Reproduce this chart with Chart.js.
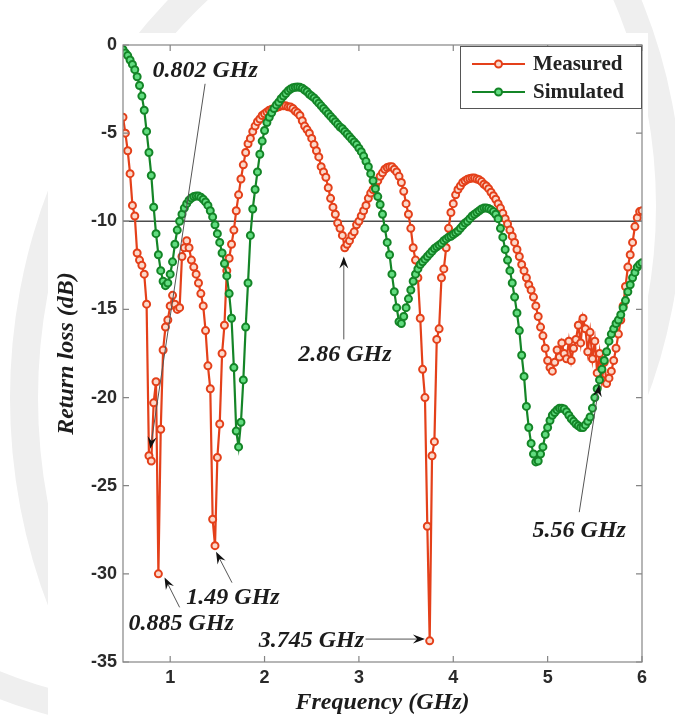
<!DOCTYPE html>
<html lang="en">
  <head>
    <meta charset="UTF-8" />
    <title>Return loss vs frequency</title>
    <script src="https://cdn.jsdelivr.net/npm/chart.js"></script>
    <style>
      html, body { margin: 0; padding: 0; background: #fff; }
      .page { position: relative; width: 675px; height: 717px; overflow: hidden; background: #fff; }
      .mark { position: absolute; border-radius: 50%; }
      .mark-left { left: 10px; top: -160px; width: 1000px; height: 1060px; border: 28px solid #efefef; }
      .mark-right { left: -330px; top: -320px; width: 960px; height: 1000px; border: 26px solid #efefef; }
      .panel { position: absolute; left: 48px; top: 33px; width: 600px; height: 684px; background: #fff; }
      canvas { position: absolute; left: 0; top: 0; }
    </style>
  </head>
  <body>
    <div class="page">
      <div class="mark mark-left"></div>
      <div class="mark mark-right"></div>
      <div class="panel"></div>
      <canvas id="chart" width="675" height="717"></canvas>
    </div>

    <script>
      // frequency grid (GHz), one sample every 0.025 GHz
      const freqGHz = [
        0.5, 0.525, 0.55, 0.575, 0.6, 0.625, 0.65, 0.675, 0.7, 0.725,
        0.75, 0.775, 0.8, 0.825, 0.85, 0.875, 0.9, 0.925, 0.95, 0.975,
        1, 1.025, 1.05, 1.075, 1.1, 1.125, 1.15, 1.175, 1.2, 1.225,
        1.25, 1.275, 1.3, 1.325, 1.35, 1.375, 1.4, 1.425, 1.45, 1.475,
        1.5, 1.525, 1.55, 1.575, 1.6, 1.625, 1.65, 1.675, 1.7, 1.725,
        1.75, 1.775, 1.8, 1.825, 1.85, 1.875, 1.9, 1.925, 1.95, 1.975,
        2, 2.025, 2.05, 2.075, 2.1, 2.125, 2.15, 2.175, 2.2, 2.225,
        2.25, 2.275, 2.3, 2.325, 2.35, 2.375, 2.4, 2.425, 2.45, 2.475,
        2.5, 2.525, 2.55, 2.575, 2.6, 2.625, 2.65, 2.675, 2.7, 2.725,
        2.75, 2.775, 2.8, 2.825, 2.85, 2.875, 2.9, 2.925, 2.95, 2.975,
        3, 3.025, 3.05, 3.075, 3.1, 3.125, 3.15, 3.175, 3.2, 3.225,
        3.25, 3.275, 3.3, 3.325, 3.35, 3.375, 3.4, 3.425, 3.45, 3.475,
        3.5, 3.525, 3.55, 3.575, 3.6, 3.625, 3.65, 3.675, 3.7, 3.725,
        3.75, 3.775, 3.8, 3.825, 3.85, 3.875, 3.9, 3.925, 3.95, 3.975,
        4, 4.025, 4.05, 4.075, 4.1, 4.125, 4.15, 4.175, 4.2, 4.225,
        4.25, 4.275, 4.3, 4.325, 4.35, 4.375, 4.4, 4.425, 4.45, 4.475,
        4.5, 4.525, 4.55, 4.575, 4.6, 4.625, 4.65, 4.675, 4.7, 4.725,
        4.75, 4.775, 4.8, 4.825, 4.85, 4.875, 4.9, 4.925, 4.95, 4.975,
        5, 5.025, 5.05, 5.075, 5.1, 5.125, 5.15, 5.175, 5.2, 5.225,
        5.25, 5.275, 5.3, 5.325, 5.35, 5.375, 5.4, 5.425, 5.45, 5.475,
        5.5, 5.525, 5.55, 5.575, 5.6, 5.625, 5.65, 5.675, 5.7, 5.725,
        5.75, 5.775, 5.8, 5.825, 5.85, 5.875, 5.9, 5.925, 5.95, 5.975,
        6
      ];

      const measuredDb = [
        -4.1, -5.0, -6.0, -7.3, -9.1, -9.7, -11.8, -12.2, -12.5, -13.0,
        -14.7, -23.3, -23.6, -20.3, -19.1, -30.0, -21.8, -17.3, -16.0, -15.6,
        -14.8, -14.2, -14.7, -15.0, -14.9, -12.0, -11.5, -11.1, -11.5, -12.2,
        -12.6, -13.0, -13.5, -14.1, -14.8, -16.2, -18.2, -19.5, -26.9, -28.4,
        -23.4, -21.5, -17.5, -15.9, -12.8, -12.1, -11.3, -10.5, -9.4, -8.5,
        -7.6, -6.8, -6.1, -5.6, -5.3, -4.9, -4.6, -4.35, -4.2, -4.0,
        -3.9, -3.8, -3.7, -3.65, -3.6, -3.55, -3.5, -3.45, -3.45, -3.45,
        -3.5, -3.52, -3.6, -3.75, -3.85, -4.0, -4.3, -4.6, -4.8, -5.0,
        -5.3, -5.65, -6.0, -6.35, -6.9, -7.2, -7.5, -8.1, -8.7, -9.2,
        -9.6, -10.1, -10.4, -10.8, -11.5, -11.3, -11.1, -10.8, -10.6, -10.2,
        -10.0, -9.7, -9.4, -9.1, -8.7, -8.4, -8.2, -7.95, -7.7, -7.45,
        -7.25, -7.05, -6.95, -6.9, -6.9, -7.05, -7.2, -7.45, -7.8, -8.3,
        -9.0, -9.6, -10.4, -11.5, -12.2, -13.2, -15.5, -18.4, -20.0, -27.3,
        -33.8, -23.3, -22.5, -16.7, -16.1, -13.2, -12.7, -11.5, -10.4, -9.5,
        -9.0, -8.5, -8.2, -8.0, -7.8, -7.7, -7.62, -7.58, -7.55, -7.55,
        -7.6, -7.65, -7.75, -7.9, -8.0, -8.15, -8.35, -8.55, -8.75, -9.0,
        -9.25, -9.55, -9.85, -10.15, -10.5, -10.85, -11.2, -11.6, -12.0, -12.45,
        -12.8, -13.2, -13.6, -13.9, -14.3, -14.8, -15.4, -16.0, -16.5, -17.2,
        -17.9, -18.3, -18.5, -18.0, -17.3, -17.7, -16.9, -17.5, -17.8, -16.8,
        -17.9, -17.2, -16.7, -15.9, -16.9, -15.5, -16.1, -17.4, -16.3, -17.8,
        -16.8, -18.6, -17.5, -19.0, -18.0, -19.2, -18.9, -18.5, -17.9, -17.2,
        -16.4, -15.6, -14.8, -13.7, -12.6, -11.9, -11.2, -10.3, -9.8, -9.45,
        -9.4
      ];

      const simulatedDb = [
        -0.25, -0.45, -0.6, -0.85, -1.1, -1.4, -1.8, -2.3, -2.9, -3.7,
        -4.9, -6.1, -7.4, -9.2, -10.7, -11.9, -12.8, -13.4, -13.65, -13.5,
        -13.0, -12.3, -11.3, -10.5, -10.0, -9.6, -9.25, -9.0, -8.8, -8.68,
        -8.6, -8.57, -8.57, -8.63, -8.75, -8.9, -9.1, -9.4, -9.75, -10.2,
        -10.7, -11.2, -11.8, -12.4, -13.1, -14.1, -15.5, -18.3, -21.9, -22.8,
        -21.4, -19.0, -16.0, -13.5, -10.8, -9.3, -8.2, -7.2, -6.2, -5.45,
        -4.85, -4.4, -4.1, -3.85, -3.6, -3.4, -3.25, -3.05, -2.9, -2.75,
        -2.6, -2.5, -2.43, -2.4, -2.38, -2.4, -2.45, -2.55, -2.65, -2.8,
        -2.9, -3.0, -3.15, -3.3, -3.45, -3.6, -3.75, -3.9, -4.05, -4.2,
        -4.35, -4.5, -4.65, -4.75, -4.9, -5.05, -5.2, -5.35, -5.5, -5.65,
        -5.85, -6.05, -6.3, -6.6, -6.9, -7.3, -7.7, -8.15, -8.6, -9.05,
        -9.6, -10.4, -11.2, -11.9, -13.0, -14.0, -14.9, -15.7, -15.8, -15.4,
        -14.9, -14.4, -13.9, -13.4, -13.0, -12.7, -12.45, -12.3, -12.15, -12.0,
        -11.85, -11.7, -11.55, -11.45, -11.35, -11.25, -11.1, -11.0, -10.9, -10.85,
        -10.75, -10.65, -10.55, -10.4, -10.25, -10.1, -10.0, -9.85, -9.7, -9.6,
        -9.5, -9.4, -9.3, -9.25, -9.25, -9.28, -9.35, -9.45, -9.6, -9.85,
        -10.4, -10.9, -11.6, -12.2, -12.8, -13.5, -14.3, -15.2, -16.2, -17.6,
        -18.8, -20.5, -21.7, -22.6, -23.2, -23.65, -23.6, -23.2, -22.8, -22.1,
        -21.7, -21.3, -21.0, -20.85, -20.7, -20.6, -20.6, -20.65, -20.8, -21.0,
        -21.2, -21.35, -21.5, -21.6, -21.7, -21.7, -21.55, -21.35, -21.1, -20.6,
        -20.0, -19.5, -19.0, -18.4, -17.9, -17.4, -16.8, -16.4, -16.1, -15.8,
        -15.6, -15.3, -14.9, -14.5, -14.0, -13.6, -13.2, -12.9, -12.6, -12.45,
        -12.35
      ];

      const seriesNames = ["Measured", "Simulated"];
      const xTickValues = [1, 2, 3, 4, 5, 6];
      const yTickValues = [0, -5, -10, -15, -20, -25, -30, -35];
      const refLevelDb = -10;

      // callouts: label anchor, arrow tail and arrow tip, all in data units
      const callouts = [
        { text: "0.802 GHz", at: [1.37, -1.45], from: [1.37, -2.2], to: [0.79, -22.9] },
        { text: "0.885 GHz", at: [1.117, -32.83], from: [1.1, -31.9], to: [0.94, -30.2] },
        { text: "1.49 GHz", at: [1.666, -31.36], from: [1.655, -30.5], to: [1.486, -28.75] },
        { text: "2.86 GHz", at: [2.852, -17.56], from: [2.84, -16.7], to: [2.84, -12.0] },
        { text: "3.745 GHz", at: [2.496, -33.8], from: [3.07, -33.7], to: [3.7, -33.7] },
        { text: "5.56 GHz", at: [5.335, -27.56], from: [5.335, -26.5], to: [5.546, -19.27] }
      ];

      const red = "#e4401a";
      const redFill = "#fbd9cb";
      const green = "#148527";
      const greenFill = "#62dc80";
      const serif = '"Liberation Serif", "Times New Roman", serif';
      const sans = '"Liberation Sans", Arial, sans-serif';

      function drawArrow(ctx, x0, y0, x1, y1) {
        const ang = Math.atan2(y1 - y0, x1 - x0);
        const len = 12;
        const half = 4.5;
        ctx.save();
        ctx.strokeStyle = "#555";
        ctx.lineWidth = 1;
        ctx.beginPath();
        ctx.moveTo(x0, y0);
        ctx.lineTo(x1 - Math.cos(ang) * len * 0.6, y1 - Math.sin(ang) * len * 0.6);
        ctx.stroke();
        ctx.translate(x1, y1);
        ctx.rotate(ang);
        ctx.fillStyle = "#111";
        ctx.beginPath();
        ctx.moveTo(0, 0);
        ctx.lineTo(-len, -half);
        ctx.lineTo(-len * 0.65, 0);
        ctx.lineTo(-len, half);
        ctx.closePath();
        ctx.fill();
        ctx.restore();
      }

      function drawMarker(ctx, x, y, stroke, fill) {
        ctx.beginPath();
        ctx.arc(x, y, 3.5, 0, Math.PI * 2);
        ctx.fillStyle = fill;
        ctx.fill();
        ctx.lineWidth = 2;
        ctx.strokeStyle = stroke;
        ctx.stroke();
      }

      const overlay = {
        id: "overlay",
        beforeDatasetsDraw(chart) {
          const { ctx, chartArea: a, scales } = chart;
          const y = scales.y.getPixelForValue(refLevelDb);
          ctx.save();
          ctx.strokeStyle = "#4d4d4d";
          ctx.lineWidth = 1.5;
          ctx.beginPath();
          ctx.moveTo(a.left, y);
          ctx.lineTo(a.right, y);
          ctx.stroke();
          ctx.restore();
        },
        afterDatasetsDraw(chart) {
          const { ctx, chartArea: a, scales } = chart;
          ctx.save();

          // box and inward ticks
          ctx.strokeStyle = "#858585";
          ctx.lineWidth = 1.2;
          ctx.strokeRect(a.left, a.top, a.right - a.left, a.bottom - a.top);
          ctx.beginPath();
          xTickValues.forEach((v) => {
            const x = scales.x.getPixelForValue(v);
            ctx.moveTo(x, a.bottom);
            ctx.lineTo(x, a.bottom - 6);
            ctx.moveTo(x, a.top);
            ctx.lineTo(x, a.top + 6);
          });
          yTickValues.forEach((v) => {
            const y = scales.y.getPixelForValue(v);
            ctx.moveTo(a.left, y);
            ctx.lineTo(a.left + 6, y);
            ctx.moveTo(a.right, y);
            ctx.lineTo(a.right - 6, y);
          });
          ctx.stroke();

          // callouts
          ctx.font = "italic bold 24px " + serif;
          ctx.fillStyle = "#1c1c1c";
          ctx.textAlign = "center";
          ctx.textBaseline = "middle";
          callouts.forEach((c) => {
            const tx = scales.x.getPixelForValue(c.at[0]);
            const ty = scales.y.getPixelForValue(c.at[1]);
            ctx.fillText(c.text, tx, ty);
            drawArrow(
              ctx,
              scales.x.getPixelForValue(c.from[0]),
              scales.y.getPixelForValue(c.from[1]),
              scales.x.getPixelForValue(c.to[0]),
              scales.y.getPixelForValue(c.to[1])
            );
          });

          // legend box, top right inside the axes
          const bw = 182;
          const bh = 63;
          const bx = a.right - bw;
          const by = a.top + 1;
          ctx.fillStyle = "#fff";
          ctx.fillRect(bx, by, bw, bh);
          ctx.strokeStyle = "#555";
          ctx.lineWidth = 1;
          ctx.strokeRect(bx + 0.5, by + 0.5, bw - 1, bh - 1);
          const entries = [
            { name: seriesNames[0], stroke: red, fill: redFill },
            { name: seriesNames[1], stroke: green, fill: greenFill }
          ];
          entries.forEach((e, i) => {
            const ly = by + 18 + i * 28;
            ctx.strokeStyle = e.stroke;
            ctx.lineWidth = 2;
            ctx.beginPath();
            ctx.moveTo(bx + 12, ly);
            ctx.lineTo(bx + 65, ly);
            ctx.stroke();
            drawMarker(ctx, bx + 38.5, ly, e.stroke, e.fill);
            ctx.fillStyle = "#222";
            ctx.font = "bold 21px " + serif;
            ctx.textAlign = "left";
            ctx.textBaseline = "middle";
            ctx.fillText(e.name, bx + 73, ly + 1);
          });

          ctx.restore();
        }
      };

      function createChart() {
        const measured = freqGHz.map((f, i) => ({ x: f, y: measuredDb[i] }));
        const simulated = freqGHz.map((f, i) => ({ x: f, y: simulatedDb[i] }));

        const tickFont = { family: sans, size: 18, weight: "bold" };
        const titleFont = { family: serif, size: 24, weight: "bold", style: "italic" };

        new Chart(document.getElementById("chart"), {
          type: "line",
          data: {
            datasets: [
              {
                label: seriesNames[0],
                data: measured,
                borderColor: red,
                borderWidth: 2.2,
                pointRadius: 3.5,
                pointBorderWidth: 2,
                pointBorderColor: red,
                pointBackgroundColor: redFill,
                tension: 0,
                order: 2
              },
              {
                label: seriesNames[1],
                data: simulated,
                borderColor: green,
                borderWidth: 2.2,
                pointRadius: 3.5,
                pointBorderWidth: 2,
                pointBorderColor: green,
                pointBackgroundColor: greenFill,
                tension: 0,
                order: 1
              }
            ]
          },
          options: {
            responsive: false,
            animation: false,
            layout: { padding: { left: 48, top: 45, right: 33, bottom: 0 } },
            plugins: {
              legend: { display: false },
              tooltip: { enabled: false },
              title: { display: false }
            },
            scales: {
              x: {
                type: "linear",
                min: 0.5,
                max: 6,
                grid: { display: false, drawTicks: false },
                border: { display: false },
                afterBuildTicks: (s) => {
                  s.ticks = xTickValues.map((v) => ({ value: v }));
                },
                afterFit: (s) => {
                  s.height = 55;
                },
                ticks: {
                  padding: 5,
                  color: "#2a2a2a",
                  font: tickFont,
                  maxRotation: 0,
                  callback: (v) => String(v)
                },
                title: {
                  display: true,
                  text: "Frequency (GHz)",
                  color: "#1c1c1c",
                  font: titleFont,
                  padding: { top: 0, bottom: 0 }
                }
              },
              y: {
                type: "linear",
                min: -35,
                max: 0,
                grid: { display: false, drawTicks: false },
                border: { display: false },
                afterBuildTicks: (s) => {
                  s.ticks = yTickValues.map((v) => ({ value: v }));
                },
                afterFit: (s) => {
                  s.width = 75;
                },
                ticks: {
                  padding: 6,
                  color: "#2a2a2a",
                  font: tickFont,
                  callback: (v) => String(v)
                },
                title: {
                  display: true,
                  text: "Return loss (dB)",
                  color: "#1c1c1c",
                  font: titleFont,
                  padding: { top: 4, bottom: 0 }
                }
              }
            }
          },
          plugins: [overlay]
        });
      }

      document.addEventListener("DOMContentLoaded", createChart);
    </script>
  </body>
</html>
